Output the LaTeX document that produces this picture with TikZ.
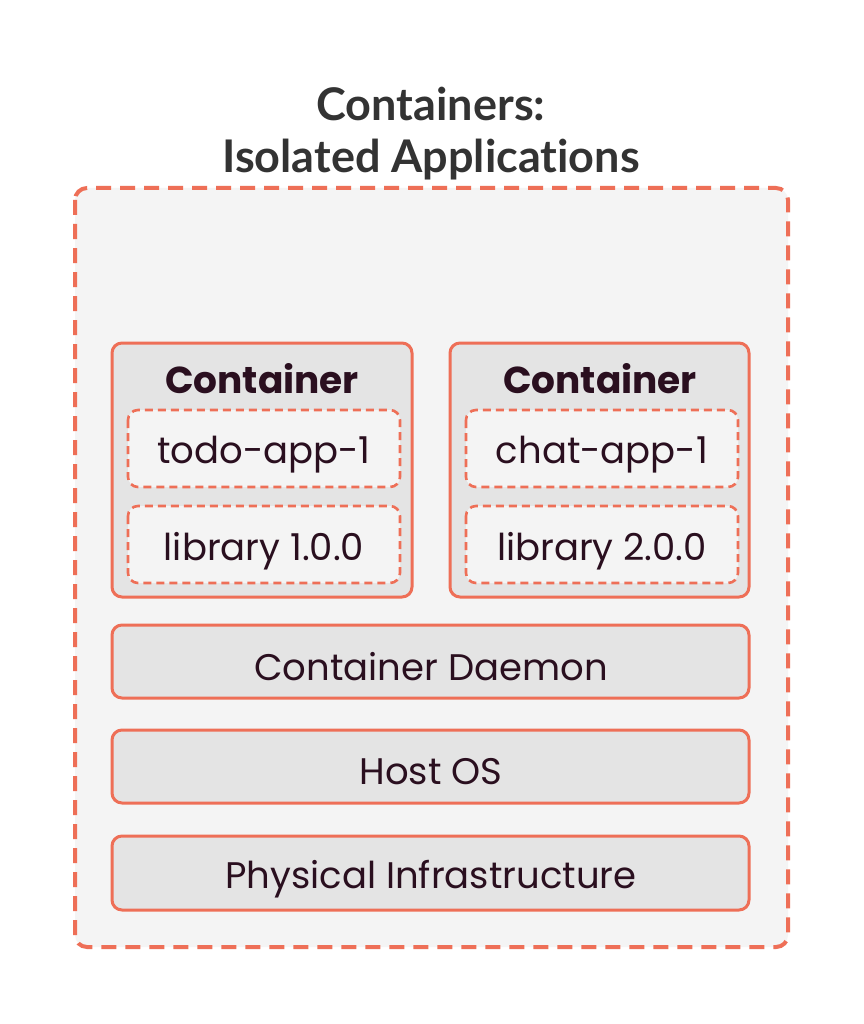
\documentclass[tikz,border=0pt]{standalone}
\usepackage{fontspec}
\setmainfont{Poppins}
\newfontfamily\titlefont[Ligatures=NoCommon]{Lato}
\definecolor{accent}{HTML}{EE6F57}
\definecolor{outerfill}{HTML}{F4F4F4}
\definecolor{boxfill}{HTML}{E4E4E4}
\definecolor{txt}{HTML}{2A0F1F}
\definecolor{ttl}{HTML}{333333}
\begin{document}
\begin{tikzpicture}[x=1pt,y=-1pt,
  outerbox/.style={draw=accent,line width=4pt,fill=outerfill,rounded corners=12pt,dash pattern=on 15pt off 9pt},
  solidbox/.style={draw=accent,line width=3pt,fill=boxfill,rounded corners=10pt},
  dashbox/.style={draw=accent,line width=2.6pt,fill=outerfill,rounded corners=10pt,dash pattern=on 8pt off 5pt},
  lbl/.style={text=txt,font=\fontsize{37}{40}\selectfont,anchor=center},
  hdr/.style={text=txt,font=\fontsize{37.5}{40}\selectfont\bfseries,anchor=center},
  ttlstyle/.style={text=ttl,font=\titlefont\fontsize{45}{52}\selectfont\bfseries,align=center,anchor=center}]
\useasboundingbox[fill=white] (0,0) rectangle (863,1024);
\node[ttlstyle] (title) at (431,134) {Containers:\\Isolated Applications};
\draw[outerbox] (75,188) rectangle (788,947);
% containers
\draw[solidbox] (112,343) rectangle (412,597);
\node[hdr] (c1) at (262,379) {Container};
\draw[dashbox] (128,410) rectangle (400,487);
\node[lbl] (a1) at (264,455) {todo-app-1};
\draw[dashbox] (128,506) rectangle (400,583);
\node[lbl] (l1) at (264,551) {library 1.0.0};
\draw[solidbox] (450,343) rectangle (749,597);
\node[hdr] (c2) at (600,379) {Container};
\draw[dashbox] (466,410) rectangle (738,487);
\node[lbl] (a2) at (602,455) {chat-app-1};
\draw[dashbox] (466,506) rectangle (738,583);
\node[lbl] (l2) at (602,551) {library 2.0.0};
% layers
\draw[solidbox] (112,625) rectangle (749,698);
\node[lbl] (daemon) at (431,667) {Container Daemon};
\draw[solidbox] (112,730) rectangle (749,803);
\node[lbl] (os) at (431,772) {Host OS};
\draw[solidbox] (112,836) rectangle (749,910);
\node[lbl] (phys) at (431,879) {Physical Infrastructure};
\end{tikzpicture}
\end{document}
